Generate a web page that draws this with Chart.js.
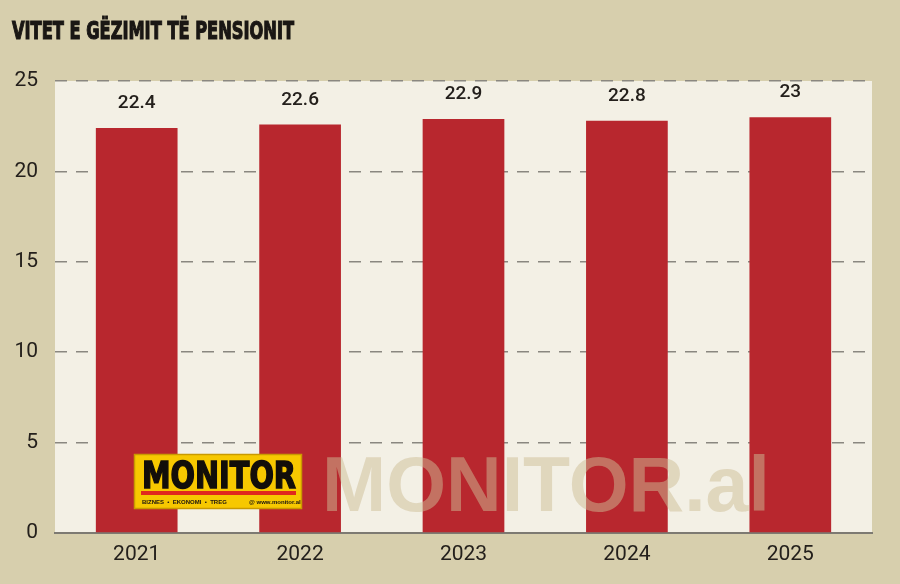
<!DOCTYPE html>
<html><head><meta charset="utf-8">
<script src="https://cdn.jsdelivr.net/npm/chart.js@4/dist/chart.umd.min.js"></script>
<style>html,body{margin:0;padding:0;background:#d7cfad;}#w{width:900px;height:584px;}</style>
</head><body><div id="w"><canvas id="c" width="900" height="584"></canvas></div>
<script>
const title = "VITET E GËZIMIT TË PENSIONIT";
const categories = ["2021","2022","2023","2024","2025"];
const values = [22.4, 22.6, 22.9, 22.8, 23];
const yTicks = [0,5,10,15,20,25];

const bgPlugin = {
  id:'bg',
  beforeDraw(chart){
    const {ctx, chartArea:a} = chart;
    ctx.save();
    ctx.fillStyle='#d7cfad'; ctx.fillRect(0,0,chart.width,chart.height);
    ctx.fillStyle='#f3f0e5'; ctx.fillRect(a.left,a.top,a.right-a.left,a.bottom-a.top);
    ctx.fillStyle='#1a1714'; ctx.strokeStyle='#1a1714'; ctx.lineWidth=1.2;
    ctx.font='bold 25px "Liberation Sans Narrow", "DejaVu Sans Condensed", sans-serif';
    ctx.textBaseline='alphabetic';
    ctx.fillText(title, 12, 39, 282);
    ctx.strokeText(title, 12, 39, 282);
    ctx.restore();
  },
  afterDatasetsDraw(chart){
    const {ctx} = chart;
    const meta = chart.getDatasetMeta(0);
    ctx.save();
    ctx.fillStyle='#24201c';
    ctx.font='500 19px "Liberation Sans Narrow", Roboto, sans-serif';
    ctx.textAlign='center'; ctx.textBaseline='bottom';
    meta.data.forEach((el,i)=>{
      ctx.fillText(String(values[i]), el.x, el.y-15);
    });
    // watermark text
    ctx.fillStyle='rgba(205,190,150,0.5)';
    ctx.font='bold 77px "Liberation Sans", Arial, sans-serif';
    ctx.textAlign='left'; ctx.textBaseline='alphabetic';
    ctx.fillText('MONITOR.al', 322, 511);
    // logo
    ctx.fillStyle='#f7c800'; ctx.fillRect(134,454,168,55);
    ctx.strokeStyle='#c99a00'; ctx.lineWidth=1.5; ctx.strokeRect(134.5,454.5,167,54);
    ctx.fillStyle='#120e0a'; ctx.strokeStyle='#120e0a'; ctx.lineWidth=1.5;
    ctx.font='bold 38px "Liberation Sans Narrow", "DejaVu Sans Condensed", sans-serif';
    ctx.fillText('MONITOR', 142, 488, 154);
    ctx.strokeText('MONITOR', 142, 488, 154);
    ctx.fillStyle='#e0281e'; ctx.fillRect(141,491,155,4);
    ctx.fillStyle='#1a1410';
    ctx.font='bold 6px "Liberation Sans", sans-serif';
    ctx.fillText('BIZNES  •  EKONOMI  •  TREG', 142, 504);
    ctx.fillText('@ www.monitor.al', 249, 504);
    ctx.restore();
  }
};

new Chart(document.getElementById('c'), {
  type:'bar',
  data:{labels:categories, datasets:[{data:values, backgroundColor:'#b8272e', borderWidth:0, categoryPercentage:1, barPercentage:0.5}]},
  options:{
    responsive:false, animation:false, devicePixelRatio:1,
    layout:{padding:{top:81,right:28,left:0,bottom:0}},
    plugins:{legend:{display:false}, tooltip:{enabled:false}},
    scales:{
      x:{
        grid:{display:false, drawTicks:false},
        border:{display:true, color:'#7d7a72', width:2},
        ticks:{color:'#24201c', font:{family:'"Liberation Sans Narrow", Roboto', size:21}, padding:9},
        afterFit(s){ s.height=51; }
      },
      y:{
        min:0, max:25,
        afterBuildTicks(s){ s.ticks = yTicks.map(v=>({value:v})); },
        grid:{color:(c)=> c.tick && c.tick.value===0 ? 'rgba(0,0,0,0)' : '#8a8780', lineWidth:1.5, drawTicks:false},
        border:{display:false, dash:[12,9]},
        ticks:{color:'#24201c', font:{family:'"Liberation Sans Narrow", Roboto', size:21}, padding:17},
        afterFit(s){ s.width=55; }
      }
    }
  },
  plugins:[bgPlugin]
});
</script>
</body></html>
